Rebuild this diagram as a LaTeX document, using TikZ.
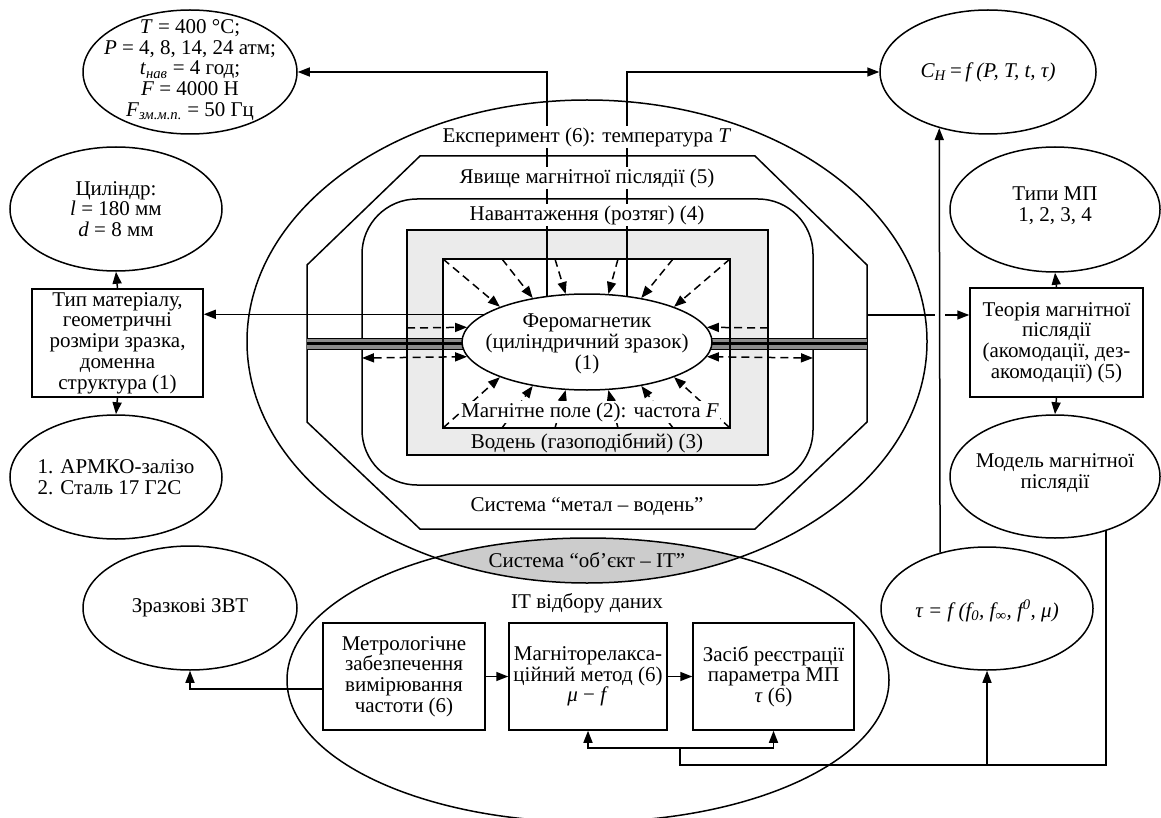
\documentclass[tikz,border=0pt]{standalone}
\usepackage{fontspec}
\setmainfont{Liberation Serif}
\usetikzlibrary{arrows.meta,shapes.geometric}
\definecolor{lensgray}{gray}{0.8}
\definecolor{hgray}{gray}{0.92}
\definecolor{bandgray}{gray}{0.55}
\begin{document}
\begin{tikzpicture}[x=1pt,y=-1pt,line width=1.5pt,
  font=\fontsize{21}{20.7}\selectfont,
  tipA/.style={-{Triangle[length=12pt,width=9pt]}},
  tipB/.style={{Triangle[length=12pt,width=9pt]}-{Triangle[length=12pt,width=9pt]}},
  dsh/.style={dash pattern=on 8pt off 5pt},
  ell/.style={draw,ellipse,inner sep=0pt,fill=white},
  bx/.style={draw,rectangle,inner sep=0pt,align=center,fill=white},
  txt/.style={inner sep=0pt,align=center},
  lbl/.style={fill=white,inner sep=1.5pt}]
\useasboundingbox (0,0) rectangle (1161,818);

% lens of the two systems
\begin{scope}
\clip (587,341.5) ellipse [x radius=340,y radius=241.5];
\fill[lensgray] (588,680) ellipse [x radius=301,y radius=142];
\end{scope}
\draw (587,341.5) ellipse [x radius=340,y radius=241.5];
\draw (588,680) ellipse [x radius=301,y radius=142];

% octagon and rounded rectangle
\draw (420,156) -- (755,156) -- (867,265) -- (867,422) -- (755,529) -- (420,529) -- (307,422) -- (307,265) -- cycle;
\draw[rounded corners=55pt] (362,199) rectangle (813,485);
\fill[hgray] (407,230) rectangle (768,455);
\fill[white] (443,259) rectangle (730,428);

% band
\fill[bandgray] (307,338) rectangle (867,349);
\draw[line width=1pt] (307,338) -- (867,338) (307,349) -- (867,349);
\draw[line width=2.8pt] (307,343.5) -- (867,343.5);
\draw (407,230) rectangle (768,455);
\draw (443,259) rectangle (730,428);

% ferromagnet
\node[ell,minimum width=250pt,minimum height=96pt] (fe) at (587,342) {};
\node[txt] (feT) at (587,344) {Феромагнетик\\(циліндричний зразок)\\(1)};

% outer nodes
\node[ell,minimum width=214pt,minimum height=124pt] (par) at (190,72) {};
\node[txt] (parT) at (190,70) {\textit{T} = 400 °C;\\\textit{P} = 4, 8, 14, 24 атм;\\\textit{t}\textsubscript{\textit{нав}} = 4 год;\\\textit{F} = 4000 Н\\\textit{F}\textsubscript{\textit{зм.м.п.}} = 50 Гц};
\node[ell,minimum width=212pt,minimum height=124pt] (cyl) at (116,209) {};
\node[txt] (cylT) at (116,209) {Циліндр:\\\textit{l} = 180 мм\\\textit{d} = 8 мм};
\node[bx,minimum width=171pt,minimum height=108pt] (tip) at (117.5,343) {Тип матеріалу,\\геометричні\\розміри зразка,\\доменна\\структура (1)};
\node[ell,minimum width=212pt,minimum height=124pt] (armko) at (116,477) {};
\node[txt,align=left] (armkoT) at (116,477) {1. АРМКО-залізо\\2. Сталь 17 Г2С};
\node[ell,minimum width=214pt,minimum height=124pt] (zvt) at (190,608) {};
\node[txt] (zvtT) at (190,608) {Зразкові ЗВТ};

\node[ell,minimum width=216pt,minimum height=124pt] (ch) at (988,72) {};
\node[txt] (chT) at (988,72) {\textit{C}\textsubscript{\textit{H}}\,=\,\textit{f (P, T, t, τ)}};
\node[ell,minimum width=210pt,minimum height=125pt] (types) at (1055,209.5) {};
\node[txt] (typesT) at (1055,206) {Типи МП\\1, 2, 3, 4};
\node[bx,minimum width=173pt,minimum height=109pt] (teor) at (1056.5,342.5) {Теорія магнітної\\післядії\\(акомодації, дез-\\акомодації) (5)};
\node[ell,minimum width=210pt,minimum height=123pt] (model) at (1055,476.5) {};
\node[txt] (modelT) at (1055,473) {Модель магнітної\\післядії};
\node[ell,minimum width=212pt,minimum height=123pt] (tau) at (987,608.5) {};
\node[txt] (tauT) at (987,611) {\textit{τ = f (f\textsubscript{0}, f\textsubscript{∞}, f\textsuperscript{0}, μ)}};

\node[bx,minimum width=162pt,minimum height=107pt] (met) at (404,676.5) {Метрологічне\\забезпечення\\вимірювання\\частоти (6)};
\node[bx,minimum width=158pt,minimum height=107pt] (mag) at (588,676.5) {Магніторелакса-\\ційний метод (6)\\\textit{μ} − \textit{f}};
\node[bx,minimum width=161pt,minimum height=107pt] (zas) at (773.5,676.5) {Засіб реєстрації\\параметра МП\\\textit{τ} (6)};

% connectors from ferromagnet
\draw[tipA] (fe.131) |- (par.east);
\draw[tipA] (fe.49) |- (ch.west);
\draw[tipA] (fe.165) -- (fe.165 -| tip.east);

% dashed field arrows
\foreach \x/\a [count=\i] in {443/158,502/141,555/114,618/66,673/39,730/22}{
  \coordinate (dt\i) at (\x,259);
  \draw[tipA,dsh] (dt\i) -- (fe.\a);
}
\foreach \x/\a [count=\i] in {443/202,502/219,555/246,618/294,673/321,730/338}{
  \coordinate (db\i) at (\x,428);
  \draw[tipA,dsh] (db\i) -- (fe.\a);
}
\coordinate (gL) at (407,328);
\coordinate (gR) at (768,328);
\coordinate (rL) at (362,358);
\coordinate (rR) at (813,358);
\draw[tipA,dsh] (gL) -- (fe.173);
\draw[tipA,dsh] (gR) -- (fe.7);
\draw[tipB,dsh] (rL) -- (fe.187);
\draw[tipB,dsh] (rR) -- (fe.353);

% right side
\coordinate (oR) at (867,315);
\coordinate (h1) at (935,315);
\coordinate (h2) at (945,315);
\draw[tipA] (tau.130) -- (ch.229);
\draw (oR) -- (h1);
\draw[tipA] (h2) -- (h2 -| teor.west);
\draw[tipA] (tip.north) -- (cyl.south);
\draw[tipA] (tip.south) -- (armko.north);
\draw[tipA] (teor.north) -- (types.south);
\draw[tipA] (teor.south) -- (model.north);

% bottom
\draw[tipA] (met) -- (mag);
\draw[tipA] (mag) -- (zas);
\draw[tipA] ([yshift=-12.5pt]met.west) -| (zvt.south);
\coordinate (j1) at (680,765);
\coordinate (j2) at (680,748);
\draw (model.313) |- (j1) -- (j2);
\draw[tipA] (j2) -| (mag.south);
\draw[tipA] (j2) -| (zas.south);
\draw[tipA] (tau.south |- j1) -- (tau.south);

% region labels
\node[lbl] (l6) at (587,137) {Експеримент (6): температура \textit{T}};
\node[lbl] (l5) at (587,178) {Явище магнітної післядії (5)};
\node[lbl] (l4) at (587,215) {Навантаження (розтяг) (4)};
\node[lbl] (l2) at (590,412) {Магнітне поле (2): частота \textit{F}};
\node[txt] (l3) at (587,443) {Водень (газоподібний) (3)};
\node[txt] (lmv) at (587,507) {Система “метал – водень”};
\node[txt] (lit) at (587,560) {Система “об’єкт – IT”};
\node[txt] (lit2) at (587,603) {IT відбору даних};
\end{tikzpicture}
\end{document}
